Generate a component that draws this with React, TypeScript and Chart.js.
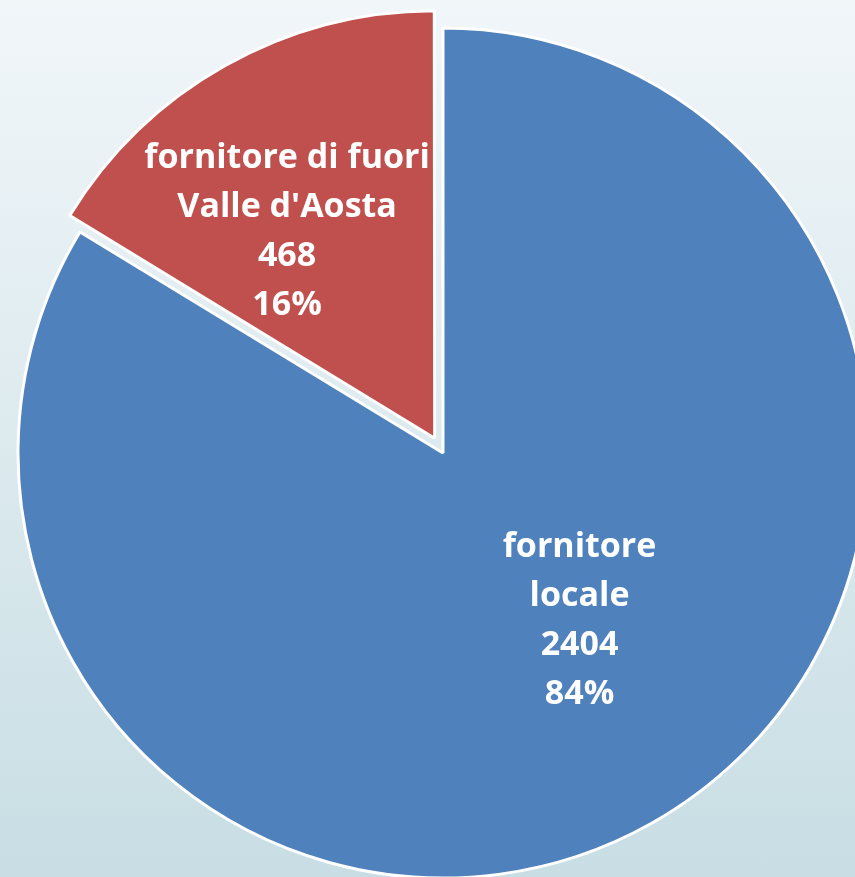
import React, { useEffect, useRef } from "react";
import { Chart, registerables } from "chart.js";

Chart.register(...registerables);

const categories = ["fornitore locale", "fornitore di fuori Valle d'Aosta"];
const categoryLines = [["fornitore", "locale"], ["fornitore di fuori", "Valle d'Aosta"]];
const values = [2404, 468];
const colors = ["#4f81bd", "#c0504d"];
const offsets = [0, 68];

const labelPlugin = {
  id: "sliceLabels",
  afterDatasetsDraw(chart: any) {
    const ctx = chart.ctx;
    const meta = chart.getDatasetMeta(0);
    const total = values.reduce((a, b) => a + b, 0);
    const tune = [
      { da: -9.8, f: 0.509 },
      { da: -5.9, f: 0.636 },
    ];
    ctx.save();
    ctx.fillStyle = "#ffffff";
    ctx.textAlign = "center";
    ctx.textBaseline = "middle";
    ctx.font = "bold 34px 'Open Sans'";
    const lh = 49;
    meta.data.forEach((arc: any, i: number) => {
      const p = arc.getProps(["x", "y", "startAngle", "endAngle", "outerRadius"], true);
      const mid = (p.startAngle + p.endAngle) / 2 + (tune[i].da * Math.PI) / 180;
      const cx = p.x + Math.cos(mid) * p.outerRadius * tune[i].f;
      const cy = p.y + Math.sin(mid) * p.outerRadius * tune[i].f;
      const lines = [...categoryLines[i], String(values[i]), Math.round((values[i] / total) * 100) + "%"];
      const y0 = cy - ((lines.length - 1) * lh) / 2;
      lines.forEach((t, k) => ctx.fillText(t, cx, y0 + k * lh));
    });
    ctx.restore();
  },
};

export default function App() {
  const ref = useRef<HTMLCanvasElement>(null);
  useEffect(() => {
    const chart = new Chart(ref.current!, {
      type: "pie",
      data: {
        labels: categories,
        datasets: [
          {
            data: values,
            backgroundColor: colors,
            borderColor: "#ffffff",
            borderWidth: 3,
            offset: offsets,
            clip: false,
          } as any,
        ],
      },
      options: {
        responsive: false,
        animation: false,
        radius: 425,
        layout: { padding: { left: 31, top: 29, right: 0, bottom: 0 } },
        plugins: { legend: { display: false }, tooltip: { enabled: false } },
      } as any,
      plugins: [labelPlugin],
    });
    return () => chart.destroy();
  }, []);
  return (
    <div
      style={{
        position: "fixed",
        left: 0,
        top: 0,
        width: 855,
        height: 877,
        overflow: "hidden",
        background: "linear-gradient(to bottom, #f1f6f9 0%, #c8dee4 100%)",
      }}
    >
      <canvas ref={ref} width={855} height={877} style={{ display: "block" }} />
    </div>
  );
}
